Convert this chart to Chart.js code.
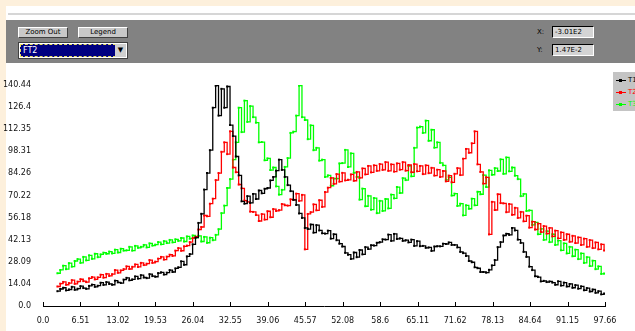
<!DOCTYPE html>
<html>
<head>
<meta charset="utf-8">
<script src="https://cdn.jsdelivr.net/npm/chart.js@4.4.1/dist/chart.umd.min.js"></script>
<style>
  html, body { margin: 0; padding: 0; }
  body { width: 635px; height: 331px; background: #fdf0dc; position: relative; overflow: hidden; font-family: "DejaVu Sans", sans-serif; }
  #page { position: absolute; left: 6px; top: 6px; right: 0; bottom: 0; background: #fff; }
  #rule { position: absolute; left: 8px; top: 13px; right: 0; height: 2px; background: #d6d6d6; }
  #panel { position: absolute; left: 6px; top: 20px; right: 0; height: 43px; background: #828282; }
  .btn { position: absolute; top: 27px; width: 48px; height: 9px; background: #c8c8c8; border: 1px solid; border-color: #fff #404040 #404040 #fff; font-size: 7px; line-height: 9px; text-align: center; color: #000; }
  #combo { position: absolute; left: 18px; top: 42px; width: 108px; height: 15px; background: #fff; border: 1px solid #404040; }
  #combo .sel { position: absolute; left: 1px; top: 1px; background: #000080; border: 1px dashed #e8e060; color: #fff; font-size: 8px; line-height: 11px; padding-left: 2px; box-sizing: border-box; width: 96px; height: 13px; }
  #combo .arr { position: absolute; right: 1px; top: 1px; width: 11px; height: 13px; background: #d0d0d0; font-size: 7px; line-height: 13px; text-align: center; }
  .lab { position: absolute; left: 537px; font-size: 7px; color: #000; }
  .inp { position: absolute; left: 552px; background: #d4d4d4; border-top: 1px solid #000; border-left: 1px solid #000; border-bottom: 1px solid #fff; border-right: 1px solid #fff; font-size: 7px; line-height: 10px; color: #000; padding-left: 2px; box-sizing: border-box; width: 42px; height: 12px; }
  #legend { position: absolute; left: 613px; top: 72px; width: 22px; height: 39px; background: #c4c4c4; overflow: hidden; }
  .lrow { position: absolute; left: 3px; white-space: nowrap; font-size: 7px; line-height: 8px; }
  .lrow i { display: inline-block; width: 10px; height: 1px; vertical-align: middle; margin-right: 2px; position: relative; }
  .lrow i b { position: absolute; left: 3px; top: -1px; width: 3px; height: 3px; }
  canvas { position: absolute; left: 0; top: 66px; }
</style>
</head>
<body>
<div id="page"></div>
<div id="rule"></div>
<div id="panel"></div>
<div class="btn" style="left:18px">Zoom Out</div>
<div class="btn" style="left:78px">Legend</div>
<div id="combo"><div class="sel">FT2</div><div class="arr">▼</div></div>
<div class="lab" style="top:28px">X:</div>
<div class="inp" style="top:26px">-3.01E2</div>
<div class="lab" style="top:46px">Y:</div>
<div class="inp" style="top:44px">1.47E-2</div>
<div id="legend"></div>
<canvas id="grafico" width="635" height="265"></canvas>
<script>
const seriesNames = ["T1", "T2", "T3"];
const seriesColors = ["#000000", "#ff0000", "#00ff00"];

const xTickValues = [0, 6.51, 13.02, 19.53, 26.04, 32.55, 39.06, 45.57, 52.08, 58.6, 65.11, 71.62, 78.13, 84.64, 91.15, 97.66];
const xTickLabels = ["0.0", "6.51", "13.02", "19.53", "26.04", "32.55", "39.06", "45.57", "52.08", "58.6", "65.11", "71.62", "78.13", "84.64", "91.15", "97.66"];
const yTickValues = [0, 14.04, 28.09, 42.13, 56.18, 70.22, 84.26, 98.31, 112.35, 126.4, 140.44];
const yTickLabels = ["0.0", "14.04", "28.09", "42.13", "56.18", "70.22", "84.26", "98.31", "112.35", "126.4", "140.44"];

const xValues = [
  2.5, 3, 3.5, 4, 4.5, 5, 5.5, 6, 6.5, 7, 7.5, 8,
  8.5, 9, 9.5, 10, 10.5, 11, 11.5, 12, 12.5, 13, 13.5, 14,
  14.5, 15, 15.5, 16, 16.5, 17, 17.5, 18, 18.5, 19, 19.5, 20,
  20.5, 21, 21.5, 22, 22.5, 23,
  23.5, 24, 24.5, 25, 25.5, 26,
  26.5, 27, 27.5, 28, 28.5, 29, 29.5,
  30, 30.5, 31, 31.5, 32, 32.5, 33,
  33.5, 34, 34.5, 35, 35.5, 36, 36.5,
  37, 37.5, 38, 38.5, 39, 39.5, 40,
  40.5, 41, 41.5, 42, 42.5, 43, 43.5,
  44, 44.5, 45, 45.5, 46, 46.5, 47,
  47.5, 48, 48.5, 49, 49.5, 50, 50.5,
  51, 51.5, 52, 52.5, 53, 53.5, 54,
  54.5, 55, 55.5, 56, 56.5, 57, 57.5,
  58, 58.5, 59, 59.5, 60, 60.5, 61,
  61.5, 62, 62.5, 63, 63.5, 64, 64.5,
  65, 65.5, 66, 66.5, 67, 67.5, 68,
  68.5, 69, 69.5, 70, 70.5, 71, 71.5,
  72, 72.5, 73, 73.5, 74, 74.5, 75,
  75.5, 76, 76.5, 77, 77.5, 78, 78.5,
  79, 79.5, 80, 80.5, 81, 81.5, 82,
  82.5, 83, 83.5, 84, 84.5, 85, 85.5,
  86, 86.5, 87, 87.5, 88, 88.5, 89,
  89.5, 90, 90.5, 91, 91.5, 92, 92.5,
  93, 93.5, 94, 94.5, 95, 95.5, 96,
  96.5, 97, 97.5
];

const blackValues = [
  9.4, 10.8, 11.6, 9.9, 10.5, 12.2, 10.3, 11.0, 12.6, 11.4, 10.9, 12.8,
  13.6, 12.2, 12.9, 14.8, 13.4, 15.2, 14.0, 13.5, 16.1, 15.0, 14.6, 16.8,
  17.9, 16.3, 16.9, 18.8, 17.4, 19.6, 18.1, 17.7, 20.2, 19.0, 18.6, 20.9,
  21.4, 20.0, 21.2, 22.8, 21.6, 23.9,
  24.6, 28.4, 26.2, 31.5, 33.0, 39.2,
  43.5, 52.8, 58.6, 74.0, 84.5, 99.0, 126.0,
  140.0, 121.0, 138.0, 126.0, 139.5, 115.0, 108.0,
  95.0, 83.0, 66.5, 65.0, 69.8, 65.5, 71.2,
  68.0, 73.4, 71.6, 74.5, 75.0, 79.8, 82.0,
  86.0, 93.0, 86.5, 82.0, 76.8, 73.0, 67.5,
  64.2, 58.8, 56.0, 49.6, 48.9, 51.8, 46.6,
  51.4, 48.0, 46.2, 46.0, 47.9, 42.8, 45.6,
  41.8, 39.6, 37.8, 33.8, 32.6, 29.9, 34.0,
  31.0, 35.6, 32.8, 37.4, 36.2, 38.6, 38.4,
  40.2, 40.6, 42.4, 42.2, 45.4, 41.4, 45.8,
  42.6, 43.0, 41.4, 41.8, 40.4, 42.2, 38.2,
  41.2, 38.0, 38.2, 37.0, 37.2, 35.0, 37.8,
  38.0, 37.9, 39.6, 39.4, 40.4, 38.8, 38.8,
  37.2, 34.4, 33.6, 31.8, 28.6, 27.8, 24.6,
  24.0, 21.6, 21.6, 21.2, 23.0, 25.8, 29.2,
  37.4, 40.6, 44.8, 45.9, 45.2, 49.6, 48.0,
  42.2, 40.1, 34.4, 31.2, 25.0, 22.8, 18.9,
  18.4, 15.6, 16.0, 15.2, 15.6, 14.9, 13.5,
  15.7, 13.0, 14.9, 12.4, 14.0, 11.6, 13.3,
  11.0, 12.5, 10.0, 11.4, 9.2, 10.5, 8.4,
  9.4, 7.4, 7.9
];

const redValues = [
  12.4, 14.2, 15.3, 13.5, 14.6, 16.4, 14.1, 15.5, 17.0, 15.8, 15.2, 17.6,
  18.4, 16.9, 18.2, 19.9, 18.0, 20.4, 19.1, 20.2, 22.8, 21.1, 22.6, 23.4,
  25.2, 23.5, 24.9, 26.4, 24.8, 27.4, 26.0, 26.9, 29.2, 27.4, 28.2, 30.1,
  31.2, 29.5, 31.4, 32.6, 31.8, 35.2,
  36.8, 35.1, 37.9, 38.4, 40.6, 43.2,
  44.0, 48.6, 50.2, 57.5, 57.0, 65.0, 68.2,
  80.0, 84.5, 98.0, 104.0, 96.5, 111.0, 88.0,
  85.0, 77.2, 74.8, 67.0, 66.2, 60.0, 59.8,
  57.8, 54.0, 58.4, 54.9, 60.2, 56.4, 61.6,
  60.4, 60.9, 64.8, 64.0, 63.8, 67.8, 67.4,
  71.4, 66.8, 70.6, 36.0, 58.5, 59.6, 64.6,
  60.8, 67.2, 63.0, 72.4, 75.2, 81.4, 77.6,
  83.8, 79.0, 84.6, 79.8, 80.2, 83.6, 79.6,
  85.2, 81.4, 87.4, 83.6, 89.0, 84.9, 89.4,
  85.9, 90.2, 86.5, 91.4, 85.9, 90.0, 85.4,
  90.6, 86.6, 91.4, 86.0, 89.6, 85.0, 90.2,
  85.6, 89.0, 83.8, 89.4, 84.4, 87.8, 82.9,
  86.6, 82.0, 85.8, 79.2, 82.9, 78.6, 84.0,
  87.6, 83.2, 93.6, 99.8, 97.4, 103.4, 111.0,
  90.0, 85.2, 77.8, 81.8, 45.5, 66.2, 61.0,
  71.0, 65.4, 65.2, 59.6, 64.8, 58.0, 62.4,
  56.0, 59.8, 53.8, 57.4, 49.8, 53.6, 48.6,
  52.4, 47.0, 50.8, 46.0, 49.6, 44.2, 47.9,
  43.0, 46.8, 42.0, 45.6, 40.8, 44.6, 40.0,
  43.6, 38.8, 42.8, 37.6, 41.9, 36.8, 40.4,
  36.0, 39.2, 35.2
];

const greenValues = [
  20.8, 22.9, 25.6, 23.4, 27.2, 25.0, 28.6, 29.8, 27.4, 31.2, 29.0, 32.2,
  30.0, 33.2, 31.0, 32.8, 33.9, 33.2, 34.6, 33.4, 35.8, 34.0, 36.4, 35.2,
  35.4, 37.6, 35.2, 38.2, 37.0, 37.6, 38.8, 37.2, 39.8, 38.4, 39.0, 40.6,
  39.2, 41.2, 40.0, 42.0, 40.4, 42.4,
  41.4, 43.2, 41.0, 44.2, 42.8, 44.8,
  43.4, 44.6, 41.0, 43.9, 40.2, 43.4, 41.8,
  45.2, 48.8, 59.0, 63.8, 75.0, 80.6, 93.0,
  104.0, 126.0, 110.5, 130.5, 117.0, 127.0, 120.0,
  116.5, 104.0, 104.2, 92.6, 93.8, 86.4, 88.0,
  76.0, 70.8, 73.8, 88.4, 94.0, 110.0, 110.8,
  121.0, 140.0, 120.0, 118.2, 106.0, 114.8, 99.0,
  100.5, 92.4, 93.0, 82.0, 83.0, 76.4, 81.0,
  81.0, 90.6, 90.8, 99.2, 88.4, 97.0, 84.6,
  82.0, 67.6, 74.6, 63.4, 70.0, 61.2, 68.6,
  59.0, 66.8, 60.4, 68.0, 62.0, 70.8, 68.4,
  75.6, 71.8, 81.2, 80.0, 89.0, 82.4, 100.5,
  113.4, 114.0, 110.0, 117.8, 105.0, 112.0, 100.6,
  104.0, 91.0, 89.4, 80.2, 81.8, 70.2, 71.4,
  63.6, 65.0, 57.6, 64.0, 61.8, 68.2, 64.0,
  72.6, 71.0, 83.2, 75.6, 86.2, 83.4, 87.6,
  85.8, 93.2, 84.0, 94.4, 85.6, 88.0, 82.8,
  80.6, 69.8, 71.2, 60.4, 60.8, 51.6, 53.2,
  45.6, 49.0, 42.0, 47.6, 40.6, 45.6, 38.8,
  41.6, 35.4, 39.8, 33.4, 37.6, 31.6, 35.8,
  29.8, 33.4, 27.4, 31.0, 25.4, 28.8, 23.4,
  25.2, 20.4, 20.6
];

// legenda pequena no canto direito (cortada pela borda, como no original)
const legenda = document.getElementById("legend");
seriesNames.forEach((nome, i) => {
    const row = document.createElement("div");
    row.className = "lrow";
    row.style.top = (4 + i * 12) + "px";
    row.innerHTML = `<i style="background:${seriesColors[i]}"><b style="background:${seriesColors[i]}"></b></i><span style="color:${seriesColors[i]}">${nome}</span>`;
    legenda.appendChild(row);
});

function montarSerie(valores) {
    return valores.map((v, i) => ({ x: xValues[i], y: v }));
}

const valoresSeries = [blackValues, redValues, greenValues];

// marcas do eixo x viradas para cima, como no grafico original
const ticksParaCima = {
    id: "ticksParaCima",
    afterDraw(chart) {
        const ctx = chart.ctx;
        const sx = chart.scales.x;
        const base = chart.chartArea.bottom;
        ctx.save();
        ctx.strokeStyle = "#000";
        ctx.lineWidth = 1;
        xTickValues.forEach(v => {
            const px = Math.round(sx.getPixelForValue(v)) + 0.5;
            ctx.beginPath();
            ctx.moveTo(px, base);
            ctx.lineTo(px, base - 4);
            ctx.stroke();
        });
        ctx.restore();
    }
};

new Chart(document.getElementById("grafico"), {
    type: "line",
    data: {
        datasets: seriesNames.map((nome, i) => ({
            label: nome,
            data: montarSerie(valoresSeries[i]),
            borderColor: seriesColors[i],
            backgroundColor: seriesColors[i],
            borderWidth: 1.3,
            stepped: true,
            pointStyle: "rect",
            pointRadius: 1.4,
            pointBorderWidth: 0,
            fill: false
        }))
    },
    options: {
        responsive: false,
        animation: false,
        layout: { padding: { top: 19, right: 30, left: 0, bottom: 0 } },
        plugins: {
            legend: { display: false },
            tooltip: { enabled: false }
        },
        scales: {
            x: {
                type: "linear",
                min: 0,
                max: 97.66,
                afterBuildTicks: s => { s.ticks = xTickValues.map(v => ({ value: v })); },
                afterFit: s => { s.height = 25; },
                grid: { display: false },
                border: { display: true, color: "#000", width: 1 },
                ticks: {
                    autoSkip: false,
                    maxRotation: 0,
                    padding: 2,
                    color: "#111",
                    font: { family: "DejaVu Sans", size: 8 },
                    callback: (v, i) => xTickLabels[i]
                }
            },
            y: {
                type: "linear",
                min: 0,
                max: 140.44,
                afterBuildTicks: s => { s.ticks = yTickValues.map(v => ({ value: v })); },
                afterFit: s => { s.width = 43; },
                grid: { display: false },
                border: { display: false },
                ticks: {
                    padding: 4,
                    color: "#111",
                    font: { family: "DejaVu Sans", size: 8 },
                    callback: (v, i) => yTickLabels[i]
                }
            }
        }
    },
    plugins: [ticksParaCima]
});
</script>
</body>
</html>
